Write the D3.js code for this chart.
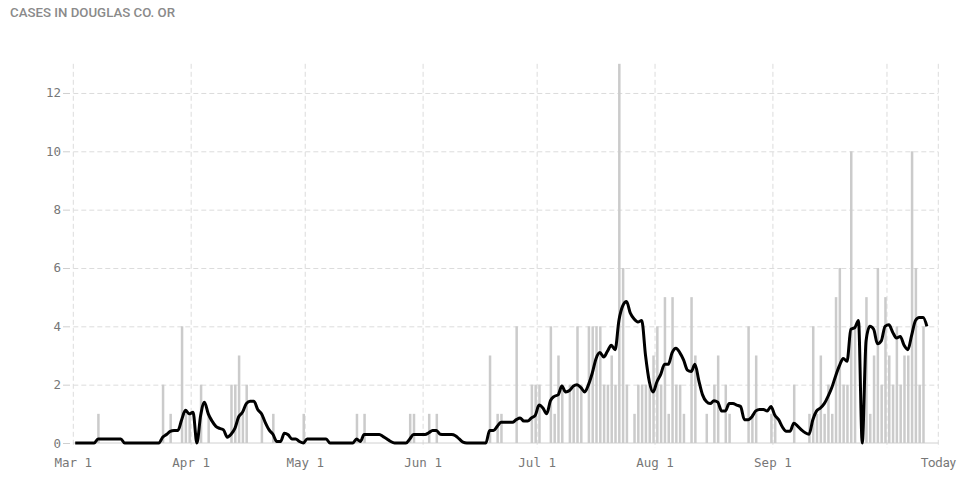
<!DOCTYPE html>
<html>
<head>
<meta charset="utf-8">
<script src="https://cdn.jsdelivr.net/npm/d3@7"></script>
<style>
  html, body { margin: 0; padding: 0; background: #fff; }
  svg { display: block; }
</style>
</head>
<body>
<svg id="chart" width="960" height="489"></svg>
<script>
// ---- data ----
const titleText = "CASES IN DOUGLAS CO. OR";
const startDate = "2020-03-01";
const todayDate = "2020-10-14T12:00:00Z";
const yTicks = [0, 2, 4, 6, 8, 10, 12];
const monthTicks = ["2020-03-01","2020-04-01","2020-05-01","2020-06-01","2020-07-01","2020-08-01","2020-09-01","2020-10-01"];
const monthLabels = ["Mar 1","Apr 1","May 1","Jun 1","Jul 1","Aug 1","Sep 1",""];
const todayLabel = "Today";

// daily new cases, one per day from Mar 1
const dailyCases = [
  0,0,0,0,0,0,1,0,0,0,
  0,0,0,0,0,0,0,0,0,0,
  0,0,0,2,0,1,0,0,4,1,
  1,0,0,2,0,1,0,0,0,0,
  0,2,2,3,1,2,0,0,0,1,
  0,0,1,0,0,0,0,0,0,0,
  1,0,0,0,0,0,0,0,0,0,
  0,0,0,0,1,0,1,0,0,0,
  0,0,0,0,0,0,0,0,1,1,
  0,0,0,1,0,1,0,0,0,0,
  0,0,0,0,0,0,0,0,0,3,
  0,1,1,0,0,0,4,0,0,0,
  2,2,2,0,0,4,1,3,2,0,
  2,2,4,2,0,4,4,4,4,2,
  2,3,2,13,6,2,0,1,2,2,
  2,2,3,4,2,5,1,5,2,2,
  1,0,5,3,0,0,1,0,2,3,
  0,2,1,0,0,0,0,4,1,3,
  0,0,0,1,1,0,0,0,0,2,
  0,0,0,1,4,1,3,1,2,1,
  5,6,2,2,10,4,0,0,5,1,
  3,6,2,5,3,2,4,2,3,3,
  10,6,2,4
];

// 7-day average line, one per day from Mar 1
const avgCases = [
  0,0,0,0,0,0,0.14,0.14,0.14,0.14,
  0.14,0.14,0.14,0,0,0,0,0,0,0,
  0,0,0,0.2,0.29,0.4,0.43,0.43,0.8,1.12,
  1.0,1.05,0,0.95,1.4,1.0,0.75,0.57,0.5,0.45,
  0.2,0.3,0.5,0.9,1.05,1.35,1.43,1.43,1.15,1.0,
  0.7,0.45,0.3,0.05,0.05,0.33,0.28,0.14,0.14,0.05,
  0,0.14,0.14,0.14,0.14,0.14,0.14,0,0,0,
  0,0,0,0,0.14,0.05,0.29,0.29,0.29,0.29,
  0.29,0.22,0.14,0.05,0,0,0,0,0.14,0.29,
  0.29,0.29,0.29,0.35,0.43,0.43,0.3,0.29,0.29,0.29,
  0.25,0.14,0.03,0,0,0,0,0,0,0.43,
  0.43,0.57,0.71,0.71,0.71,0.71,0.8,0.86,0.75,0.75,
  0.86,0.95,1.3,1.2,1.0,1.45,1.6,1.65,1.95,1.75,
  1.8,1.95,2.0,1.9,1.75,2.0,2.4,2.9,3.1,2.95,
  3.15,3.35,3.2,4.2,4.7,4.85,4.45,4.25,4.15,4.2,
  3.0,2.1,1.75,2.1,2.35,2.7,2.7,3.1,3.25,3.1,
  2.85,2.5,2.45,2.7,2.15,1.65,1.42,1.35,1.45,1.4,
  1.1,1.1,1.35,1.35,1.3,1.25,0.8,0.8,0.9,1.1,
  1.15,1.15,1.1,1.25,0.95,0.8,0.55,0.4,0.4,0.68,
  0.58,0.45,0.35,0.3,0.8,1.1,1.2,1.35,1.6,1.9,
  2.3,2.65,2.9,2.8,3.9,3.95,4.2,0,3.5,4.0,
  3.9,3.4,3.5,4.0,4.05,3.8,3.6,3.65,3.35,3.2,
  3.7,4.2,4.3,4.3,4.0
];

// ---- drawing ----
const svg = d3.select("#chart");
const start = new Date(startDate + "T00:00:00Z");
const today = new Date(todayDate);

const x = d3.scaleUtc().domain([start, today]).range([73.3, 938.3]);
const y = d3.scaleLinear().domain([0, 13]).range([443, 63.8]);

const gridColor = "#dcdcdc";
const monoFont = "'DejaVu Sans Mono', 'Liberation Mono', monospace";
const sansFont = "Roboto, 'Noto Sans', sans-serif";

// title
svg.append("text")
  .attr("x", 10).attr("y", 16.8)
  .attr("font-family", sansFont)
  .attr("font-weight", 500)
  .attr("font-size", 13)
  .attr("textLength", 165)
  .attr("lengthAdjust", "spacingAndGlyphs")
  .attr("fill", "#8a8a8a")
  .text(titleText);

// horizontal gridlines (dashed) via axis
const yGrid = svg.append("g")
  .attr("transform", `translate(${x.range()[0]},0)`)
  .call(d3.axisLeft(y).tickValues(yTicks.filter(v => v > 0))
    .tickSize(-(x.range()[1] - x.range()[0])).tickFormat(""));
yGrid.select(".domain").remove();
yGrid.selectAll("line").attr("stroke", gridColor).attr("stroke-dasharray", "5,3");

// vertical gridlines
const tickDates = monthTicks.map(s => new Date(s + "T00:00:00Z")).concat([today]);
svg.append("g").selectAll("line")
  .data(tickDates)
  .join("line")
  .attr("x1", d => x(d)).attr("x2", d => x(d))
  .attr("y1", y(13)).attr("y2", 448)
  .attr("stroke", gridColor)
  .attr("stroke-dasharray", "5,3");

// baseline
svg.append("line")
  .attr("x1", x.range()[0]).attr("x2", x.range()[1])
  .attr("y1", y(0)).attr("y2", y(0))
  .attr("stroke", "#d0d0d0");

// bars
const barData = dailyCases.map((v, i) => ({ date: d3.utcDay.offset(start, i), v }));
svg.append("g").selectAll("rect")
  .data(barData.filter(d => d.v > 0))
  .join("rect")
  .attr("x", d => x(d.date) + 1.05)
  .attr("width", 2.5)
  .attr("y", d => y(d.v))
  .attr("height", d => y(0) - y(d.v))
  .attr("fill", "#cbcbcb");

// average line
const lineData = avgCases.map((v, i) => ({ date: d3.utcHour.offset(d3.utcDay.offset(start, i), 12), v }));
svg.append("path")
  .datum(lineData)
  .attr("fill", "none")
  .attr("stroke", "#000")
  .attr("stroke-width", 3)
  .attr("stroke-linejoin", "round")
  .attr("d", d3.line().x(d => x(d.date)).y(d => y(d.v)).curve(d3.curveMonotoneX));

// y axis ticks + labels
const yAxis = svg.append("g")
  .attr("transform", "translate(70,0)")
  .call(d3.axisLeft(y).tickValues(yTicks).tickSize(7).tickPadding(2).tickFormat(d3.format("d")));
yAxis.select(".domain").remove();
yAxis.selectAll("line").attr("stroke", "#cfcfcf");
yAxis.selectAll("text")
  .attr("font-family", monoFont)
  .attr("font-size", 12.5)
  .attr("fill", "#777");

// x axis labels
const xLabels = tickDates.map((d, i) => ({ d, label: i < monthLabels.length ? monthLabels[i] : todayLabel, isToday: i >= monthLabels.length }));
svg.append("g").selectAll("text")
  .data(xLabels.filter(l => l.label !== ""))
  .join("text")
  .attr("x", l => x(l.d))
  .attr("y", 467)
  .attr("text-anchor", "middle")
  .attr("font-family", l => l.isToday ? sansFont : monoFont)
  .attr("font-size", l => l.isToday ? 13 : 12.5)
  .attr("fill", "#777")
  .text(l => l.label);
</script>
</body>
</html>
